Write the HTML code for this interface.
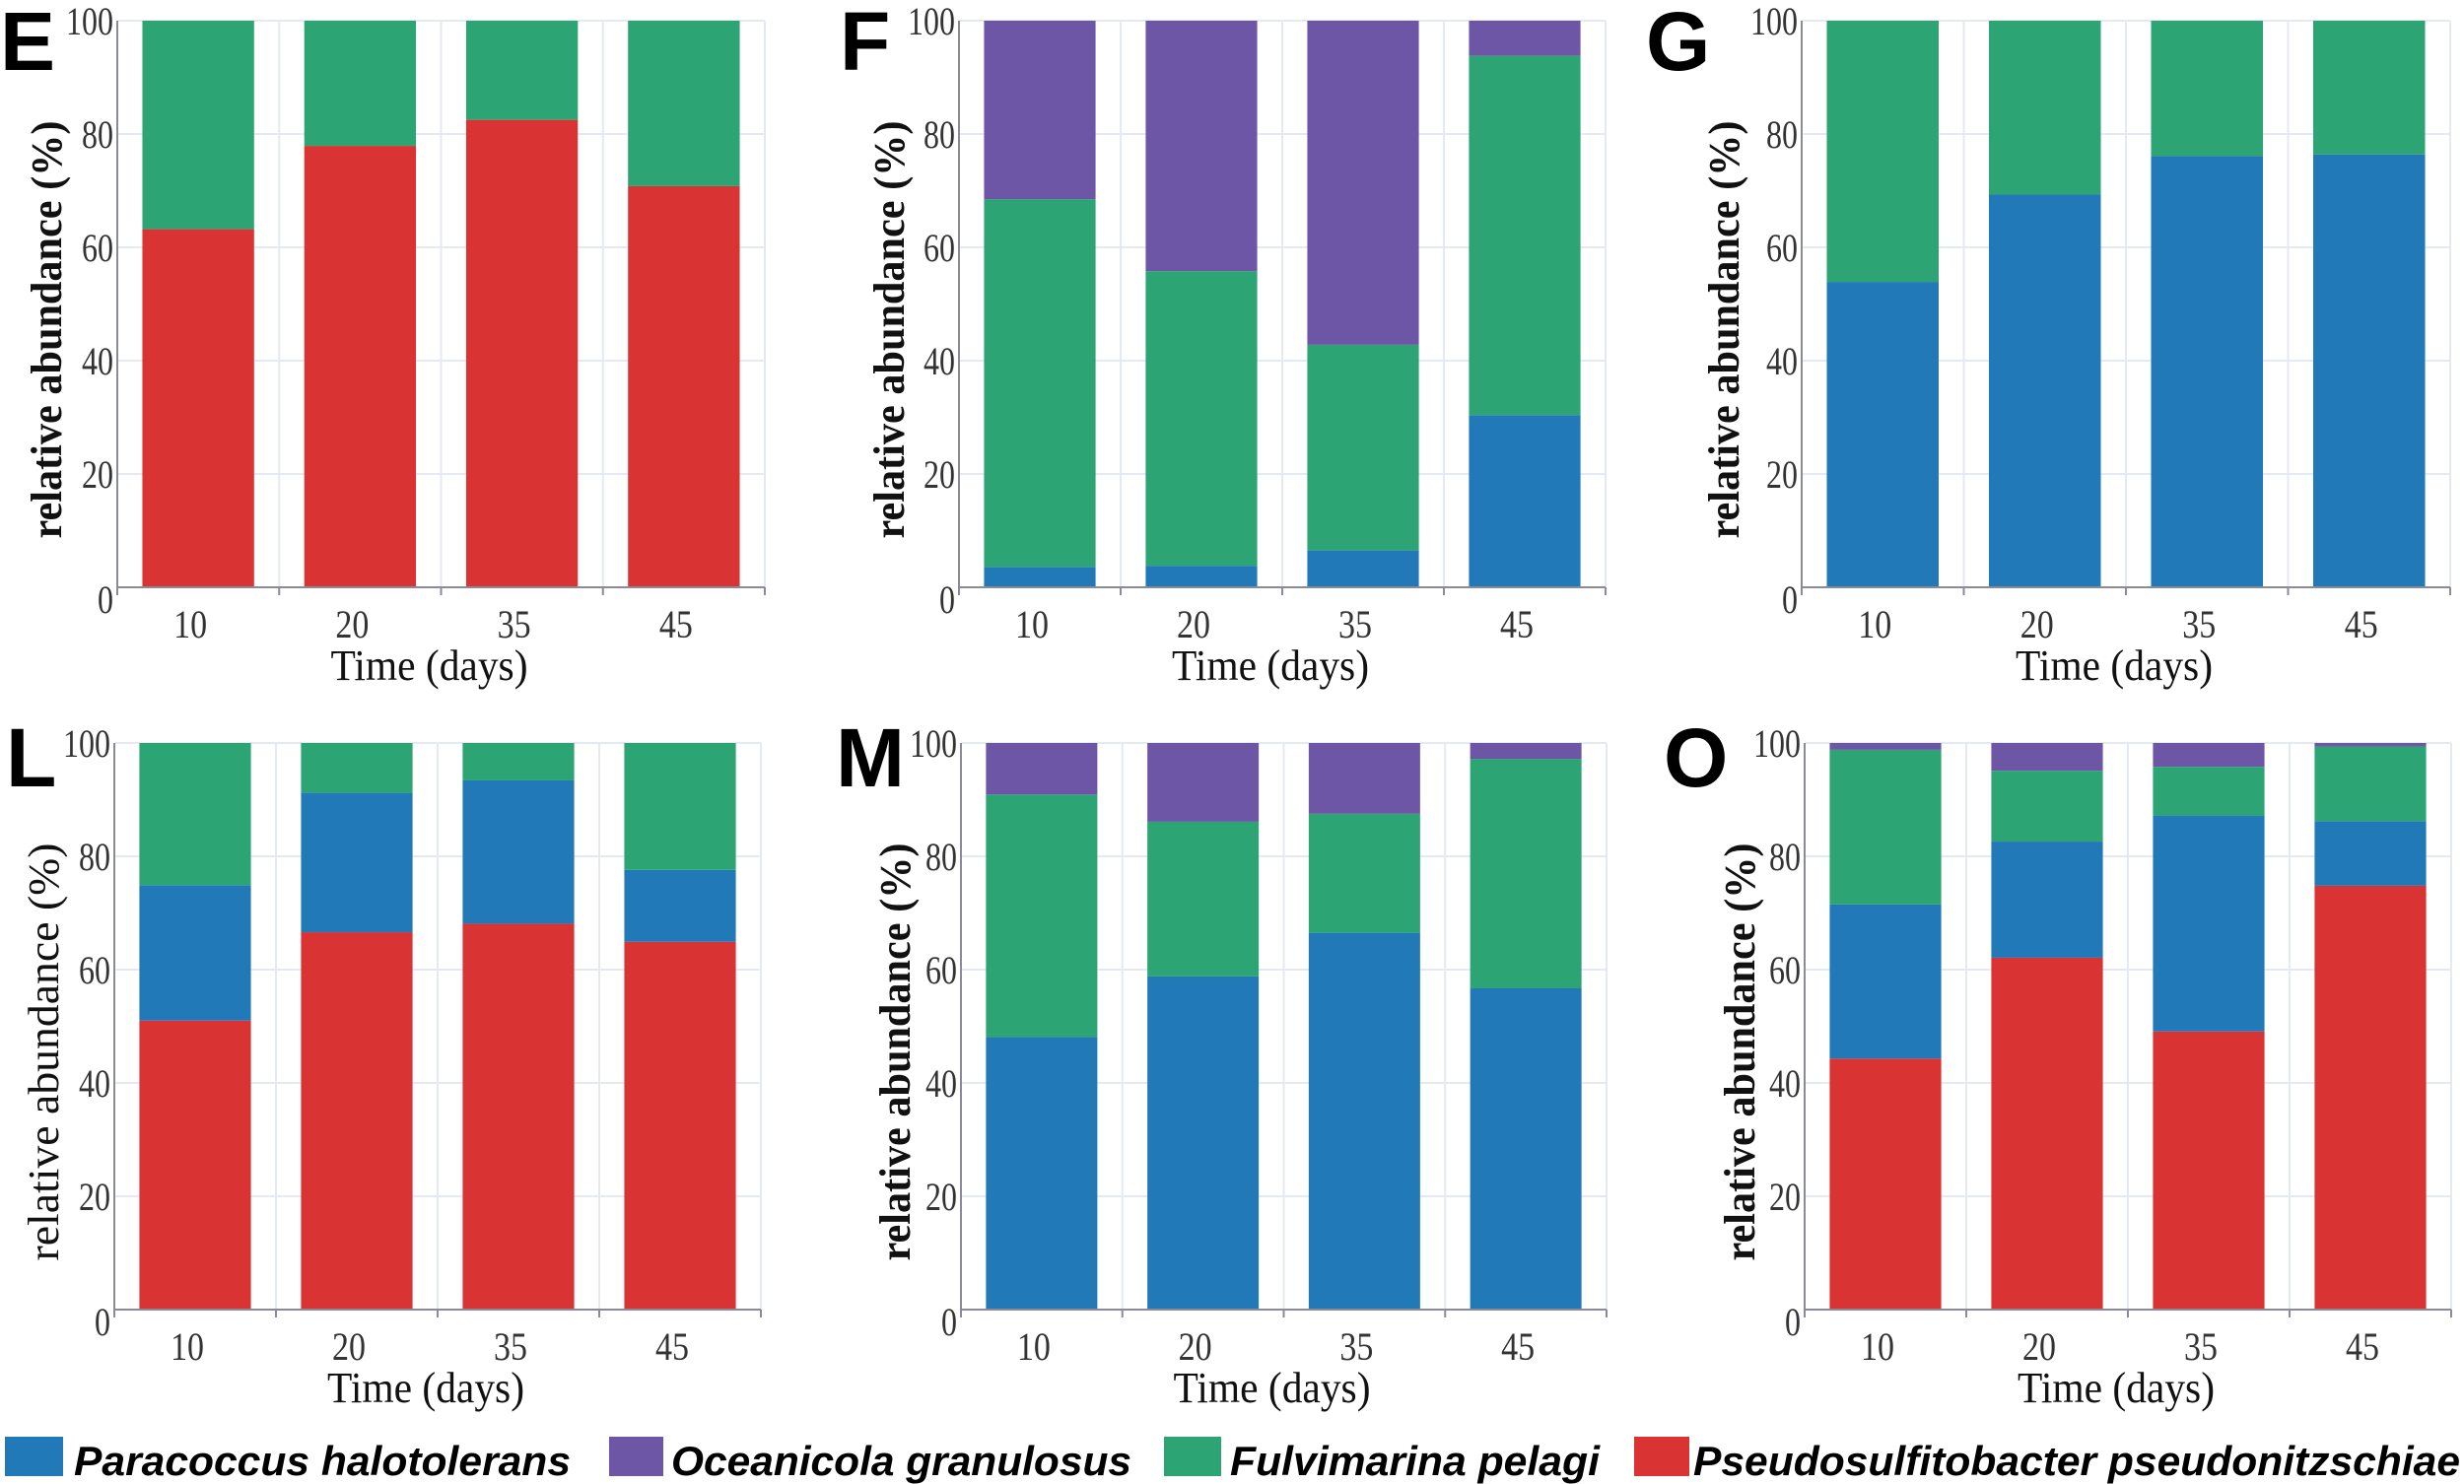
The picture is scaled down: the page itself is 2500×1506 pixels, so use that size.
<!DOCTYPE html>
<html><head><meta charset="utf-8"><style>
html,body{margin:0;padding:0;background:#fff;}
svg{display:block;}
</style></head><body>
<svg id="fig" width="2500" height="1506" viewBox="0 0 2500 1506" xmlns="http://www.w3.org/2000/svg"></svg>
<script>
const categories = ["10","20","35","45"];
const yTicks = [0,20,40,60,80,100];
const yTickLabels = ["0","20","40","60","80","100"];
const seriesNames = ["red","blue","green","purple"];
const colors = {red:"#d93334",blue:"#2279b8",green:"#2ca474",purple:"#6e56a6"};

const eRed = [63.2,77.9,82.5,70.8];
const eGreen = [36.8,22.1,17.5,29.2];
const fBlue = [3.6,3.8,6.5,30.4];
const fGreen = [64.9,52.0,36.3,63.4];
const fPurple = [31.5,44.2,57.2,6.2];
const gBlue = [53.9,69.3,76.1,76.4];
const gGreen = [46.1,30.7,23.9,23.6];
const lRed = [51.0,66.6,68.1,64.9];
const lBlue = [23.9,24.6,25.3,12.7];
const lGreen = [25.1,8.8,6.6,22.4];
const mBlue = [48.1,58.8,66.5,56.7];
const mGreen = [42.8,27.3,21.0,40.5];
const mPurple = [9.1,13.9,12.5,2.8];
const oRed = [44.3,62.1,49.1,74.8];
const oBlue = [27.2,20.5,38.1,11.4];
const oGreen = [27.3,12.5,8.6,13.2];
const oPurple = [1.2,4.9,4.2,0.6];

const panels = [
 {id:"E",L:119,R:776,T:21,B:596,lx:0,ly:71,yl:46,bold:true,s:{red:eRed,green:eGreen}},
 {id:"F",L:973,R:1629,T:21,B:596,lx:852,ly:71,yl:901,bold:true,s:{blue:fBlue,green:fGreen,purple:fPurple}},
 {id:"G",L:1828,R:2486,T:21,B:596,lx:1670,ly:71,yl:1748,bold:true,s:{blue:gBlue,green:gGreen}},
 {id:"L",L:116,R:772,T:754,B:1329,lx:6,ly:798,yl:43,bold:false,s:{red:lRed,blue:lBlue,green:lGreen}},
 {id:"M",L:975,R:1630,T:754,B:1329,lx:848,ly:798,yl:907,bold:true,s:{blue:mBlue,green:mGreen,purple:mPurple}},
 {id:"O",L:1831,R:2487,T:754,B:1329,lx:1688,ly:798,yl:1764,bold:true,s:{red:oRed,blue:oBlue,green:oGreen,purple:oPurple}}
];
const NS="http://www.w3.org/2000/svg";
const svg=document.getElementById('fig');
function mk(tag,attrs,parent){const e=document.createElementNS(NS,tag);for(const k in attrs)e.setAttribute(k,attrs[k]);(parent||svg).appendChild(e);return e;}

panels.forEach(p=>{
  const g=mk('g',{});
  
  
  const yS=v=>p.B-(v/100)*(p.B-p.T);
  const cw=(p.R-p.L)/categories.length;
  const xC=i=>p.L+cw*(i+0.5);
  const bw=cw*0.69;
  yTicks.forEach(t=>{const l=mk('line',{x1:p.L,x2:p.R,y1:yS(t),y2:yS(t),stroke:'#e4e9f2','stroke-width':2},g);
    });
  for(let i=1;i<=categories.length;i++){const x=p.L+cw*i;const l=mk('line',{x1:x,x2:x,y1:p.T,y2:p.B,stroke:'#e4e9f2','stroke-width':2},g);
    }
  categories.forEach((c,i)=>{
    let base=0;
    seriesNames.forEach(sn=>{
      const arr=p.s[sn]; if(!arr) return;
      const v=arr[i]; const y0=yS(base), y1=yS(base+v);
      const r=mk('rect',{x:xC(i)-bw/2,y:y1,width:bw,height:y0-y1,fill:colors[sn]},g);
      
      
      base+=v;
    });
  });
  const ax=mk('line',{x1:p.L,x2:p.L,y1:p.T,y2:p.B,stroke:'#8a8a99','stroke-width':2},g);
  
  const bx=mk('line',{x1:p.L,x2:p.R,y1:p.B,y2:p.B,stroke:'#8a8a99','stroke-width':2},g);
  
  for(let i=0;i<=categories.length;i++){const x=p.L+cw*i;const t=mk('line',{x1:x,x2:x,y1:p.B,y2:p.B+8,stroke:'#8a8a99','stroke-width':2},g);
    }
  yTicks.forEach((t,k)=>{const tx=mk('text',{transform:`translate(${p.L-4},${yS(t)+(t===100?14:(t===0?26:14))}) scale(0.8,1)`,'text-anchor':'end','font-family':'Liberation Serif, serif','font-size':40,fill:'#333'},g);
    tx.textContent=yTickLabels[k];});
  categories.forEach((c,i)=>{const tx=mk('text',{transform:`translate(${xC(i)-8},${p.B+51}) scale(0.85,1)`,'text-anchor':'middle','font-family':'Liberation Serif, serif','font-size':40,fill:'#333'},g);
    tx.textContent=c;});
  const xt=mk('text',{x:(p.L+p.R)/2-12,y:p.B+94,'text-anchor':'middle','font-family':'Liberation Serif, serif','font-size':44,fill:'#111',textLength:200,lengthAdjust:'spacingAndGlyphs'},g);
  xt.textContent='Time (days)';
  const cy=(p.T+p.B)/2+26;
  const yt=mk('text',{transform:`translate(${p.yl+16},${cy}) rotate(-90)`,'text-anchor':'middle','font-family':'Liberation Serif, serif','font-size':44,'font-weight':p.bold?'bold':'normal',fill:'#111',textLength:424,lengthAdjust:'spacingAndGlyphs'},g);
  yt.textContent='relative abundance (%)';
  const pl=mk('text',{x:p.lx,y:p.ly,'font-family':'Liberation Sans, sans-serif','font-size':84,'font-weight':'bold',fill:'#000'},g);
  pl.textContent=p.id;
});

const legNames=["Paracoccus halotolerans","Oceanicola granulosus","Fulvimarina pelagi","Pseudosulfitobacter pseudonitzschiae"];
const legColors=["blue","purple","green","red"];
const legSq=[5,618,1181,1658];
const legSqW=[59,55,58,56];
const legTx=[75,681,1248,1718];
const legTw=[504,467,375,778];
const lg=mk('g',{});


legNames.forEach((n,i)=>{
  const r=mk('rect',{x:legSq[i],y:1458,width:legSqW[i],height:40,fill:colors[legColors[i]]},lg);
  
  
  const t=mk('text',{x:legTx[i],y:1497,'font-family':'Liberation Sans, sans-serif','font-size':42,'font-weight':'bold','font-style':'italic',fill:'#000',textLength:legTw[i],lengthAdjust:'spacingAndGlyphs'},lg);
  t.textContent=n;
  
  
});
</script>
</body></html>
